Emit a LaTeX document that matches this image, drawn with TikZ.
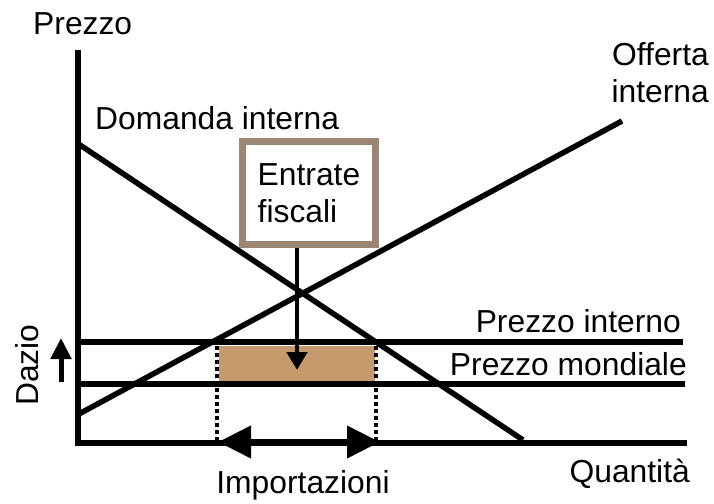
\documentclass[tikz,border=0pt]{standalone}
\usepackage{fontspec}
\setmainfont{Liberation Sans}
\usetikzlibrary{arrows.meta}
\definecolor{dazio}{RGB}{196,154,108}
\definecolor{cornice}{RGB}{155,133,115}
\tikzset{
	curva/.style={line width=5.5pt},
	guida/.style={line width=4pt,dash pattern=on 4pt off 3pt},
	etichetta/.style={inner sep=0pt,font=\fontsize{31.8}{37}\selectfont}
}

\begin{document}
\begin{tikzpicture}[x=1pt,y=-1pt]
	\useasboundingbox (0,0) rectangle (714,503);
	\coordinate (O) at (78,443);
	\coordinate (ytop) at (78,50);
	\coordinate (xend) at (687,443);
	\coordinate (d1) at (77,143);
	\coordinate (d2) at (523,440);
	\coordinate (s1) at (77,415);
	\coordinate (s2) at (622,121);
	\coordinate (pi1) at (78,342);
	\coordinate (pi2) at (683,342);
	\coordinate (pm1) at (78,384);
	\coordinate (pm2) at (685,384);
	\fill[dazio] (219,346) rectangle (375,382);
	\foreach \x in {217,376}{
		\draw[guida] (\x,346) -- (\x,440);
	}
	\draw[curva] (ytop) -- (O.center) -- (xend);
	\draw[curva] (pi1) -- (pi2);
	\draw[curva] (pm1) -- (pm2);
	\draw[curva] (d1) -- (d2);
	\draw[curva] (s1) -- (s2);
	\node[etichetta,draw=cornice,line width=7pt,fill=white,align=left,minimum width=133pt,minimum height=103pt] (entrate) at (309,193) {Entrate\\fiscali};
	\coordinate (tip) at (297,370);
	\draw[line width=4.5pt,-{Triangle[width=20pt,length=18pt]}] (entrate.south -| tip) -- (tip);
	\coordinate (imp1) at (218,442);
	\coordinate (imp2) at (380,442);
	\draw[line width=7pt,{Triangle[width=31pt,length=33pt]}-{Triangle[width=31pt,length=33pt]}] (imp1) -- (imp2);
	\coordinate (dz1) at (61,382);
	\coordinate (dz2) at (61,338);
	\draw[line width=5pt,-{Triangle[width=20pt,length=21pt]}] (dz1) -- (dz2);
	\node[etichetta,anchor=base west] (prezzo) at (33,35) {Prezzo};
	\node[etichetta,anchor=base west] (domanda) at (95,129) {Domanda interna};
	\node[etichetta,anchor=north east,align=right] (offerta) at (709,42) {Offerta\\interna};
	\node[etichetta,anchor=base east] (interno) at (681,332) {Prezzo interno};
	\node[etichetta,anchor=base east] (mondiale) at (687,375) {Prezzo mondiale};
	\node[etichetta,anchor=base east] (quantita) at (690,482) {Quantità};
	\node[etichetta,anchor=base] (importazioni) at (303,493) {Importazioni};
	\node[etichetta,rotate=90] (daziolbl) at (27,365) {Dazio};
\end{tikzpicture}
\end{document}
